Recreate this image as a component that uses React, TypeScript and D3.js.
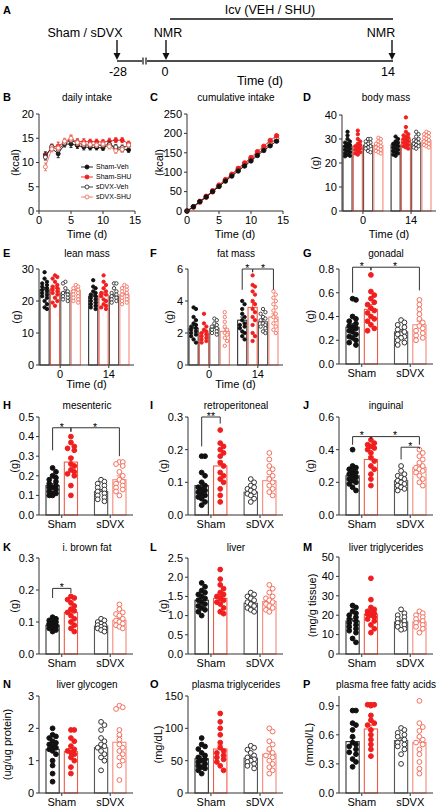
import React from 'react';
import * as d3 from 'd3';

const FONT = '"Liberation Sans", Arial, Helvetica, sans-serif';
const AXIS = '#333';

// ---------- series styles ----------
const SERIES = ['Sham-Veh', 'Sham-SHU', 'sDVX-Veh', 'sDVX-SHU'];
const STYLES = [
  { fill: '#111', stroke: '#111', bar: '#333' },
  { fill: '#f01e1e', stroke: '#f01e1e', bar: '#f25a4a' },
  { fill: '#fff', stroke: '#333', bar: '#555' },
  { fill: '#fff', stroke: '#f3705f', bar: '#f58a7c' },
];

// ---------- B: daily intake ----------
const dailyDays = [1, 2, 3, 4, 5, 6, 7, 8, 9, 10, 11, 12, 13, 14];
const dailyShamVeh = [11.6, 12.9, 11.8, 13.8, 13.8, 13.5, 13.2, 13.1, 13.1, 13.0, 13.7, 12.8, 12.7, 12.6];
const dailyShamSHU = [11.3, 13.2, 13.4, 14.2, 14.8, 14.3, 14.3, 14.3, 14.3, 14.2, 14.4, 14.6, 14.6, 13.9];
const dailySdvxVeh = [11.1, 13.3, 12.6, 14.0, 14.5, 14.1, 13.6, 13.6, 13.6, 13.5, 13.7, 13.2, 13.1, 13.5];
const dailySdvxSHU = [9.1, 12.8, 13.0, 14.4, 15.0, 14.1, 13.9, 13.7, 13.6, 13.8, 13.3, 12.4, 12.7, 13.6];
const dailySem = [0.6, 0.5, 0.8, 0.6, 0.7, 0.6, 0.6, 0.5, 0.5, 0.5, 0.6, 0.5, 0.5, 0.5];
const dailySdvxSHUSem = [0.8, 0.6, 0.6, 0.6, 0.7, 0.6, 0.6, 0.5, 0.5, 0.5, 0.5, 0.5, 0.5, 0.5];

// ---------- C: cumulative intake ----------
const cumDays = [0, 1, 2, 3, 4, 5, 6, 7, 8, 9, 10, 11, 12, 13, 14];
const cumShamVeh = [0, 11, 24, 36, 50, 63, 77, 90, 103, 116, 129, 143, 156, 168, 180];
const cumShamSHU = [0, 11, 25, 38, 52, 67, 81, 95, 110, 124, 138, 153, 167, 182, 194];
const cumSdvxVeh = [0, 11, 24, 37, 51, 65, 79, 93, 106, 120, 134, 147, 160, 174, 187];
const cumSdvxSHU = [0, 9, 22, 35, 49, 64, 78, 92, 106, 119, 133, 146, 159, 172, 186];

// ---------- D: body mass (day 0 x4, day 14 x4) ----------
const bodyMassPoints = [
  [33, 31.5, 30, 29, 28.5, 28, 27.5, 27, 26.5, 26, 25.5, 25, 24.5, 24, 23.5, 23, 22.8],
  [33.5, 32, 30, 29, 28, 27.5, 27, 26.5, 26, 25.5, 25, 24.5, 24, 23.5],
  [30, 30, 29, 28.5, 28, 27.5, 27, 26.5, 26, 25, 24.5],
  [30.5, 30, 29, 28.5, 28, 27.5, 27, 26.5, 26, 25.5, 25, 24.5, 24],
  [31, 30, 29, 28.5, 28, 27.5, 27, 26.5, 26, 25.5, 25, 24.5, 24, 23.5, 23],
  [39, 35, 33, 32, 31.5, 31, 30.5, 30, 29.5, 29, 28.5, 28, 27.5, 27, 26.5, 26],
  [33, 32, 31, 30, 29.5, 29, 28.5, 28, 27.5, 27, 26.5, 26],
  [33, 32.5, 32, 31.5, 31, 30.5, 30, 29.5, 29, 28.5, 28, 27.5, 27, 26.5],
];
const bodyMassMeans = [27, 27, 27.3, 27.3, 27.5, 30, 28.3, 29.3];
const bodyMassSem = [0.7, 0.7, 0.6, 0.5, 0.6, 0.9, 0.6, 0.6];

// ---------- E: lean mass ----------
const leanMassPoints = [
  [29, 27, 26, 25.5, 25, 24.5, 24, 23.5, 23, 22.5, 22, 21.5, 21, 20, 19, 18, 17.5],
  [28, 27.5, 27, 26, 25, 24.5, 24, 23.5, 23, 22.5, 22, 21, 20, 19.5, 18.5],
  [26, 25.5, 24, 23, 22.5, 22, 21.5, 21, 20.5, 20],
  [25, 24.5, 24, 23.5, 23, 22.5, 22, 21.5, 21, 20.5, 20, 19.5],
  [26.5, 24.5, 24, 23, 22.5, 22, 21.5, 21, 20.5, 20, 19.5, 19, 18.5, 18, 17.5],
  [28, 26, 25, 24, 23, 22.5, 22, 21.5, 20.5, 20, 19, 18.5, 18, 17.5],
  [25.5, 25.5, 24, 23, 22.5, 22, 21.5, 21, 20.5, 20, 19.5],
  [25, 24.5, 24, 23.5, 23, 22.5, 22, 21.5, 21, 20.5, 20, 19.5, 19],
];
const leanMassMeans = [23.5, 24, 22.5, 23.3, 21.5, 22, 21.5, 22];
const leanMassSem = [0.7, 0.7, 0.6, 0.5, 0.6, 0.8, 0.6, 0.5];

// ---------- F: fat mass ----------
const fatMassPoints = [
  [3.6, 3.5, 3.0, 2.8, 2.6, 2.5, 2.4, 2.3, 2.2, 2.1, 2.0, 1.9, 1.8, 1.6, 1.4],
  [3.2, 2.6, 2.4, 2.2, 2.1, 2.0, 1.9, 1.8, 1.7, 1.6, 1.5, 1.4],
  [2.9, 2.8, 2.6, 2.5, 2.4, 2.3, 2.2, 2.1, 2.0, 1.9],
  [3.3, 3.0, 2.7, 2.4, 2.2, 2.0, 1.9, 1.7, 1.5, 1.2],
  [4.0, 3.8, 3.5, 3.2, 3.0, 2.8, 2.6, 2.5, 2.4, 2.3, 2.1, 2.0, 1.8, 1.6],
  [5.6, 5.0, 4.9, 4.6, 4.4, 4.0, 3.8, 3.5, 3.3, 3.0, 2.8, 2.5, 2.0, 1.8, 1.5],
  [3.5, 3.3, 3.2, 3.0, 2.9, 2.8, 2.6, 2.5, 2.4, 2.3, 2.1, 2.0],
  [4.6, 4.4, 4.2, 4.0, 3.8, 3.6, 3.4, 3.2, 3.0, 2.8, 2.6, 2.4, 2.2, 2.0],
];
const fatMassMeans = [2.3, 2.0, 2.3, 2.1, 2.8, 3.6, 2.7, 3.0];
const fatMassSem = [0.2, 0.15, 0.12, 0.2, 0.2, 0.3, 0.15, 0.2];

// ---------- G: gonadal ----------
const gonadalPoints = [
  [0.54, 0.55, 0.40, 0.38, 0.36, 0.34, 0.32, 0.31, 0.30, 0.28, 0.27, 0.25, 0.23, 0.22, 0.20, 0.18, 0.16],
  [0.75, 0.61, 0.58, 0.55, 0.52, 0.50, 0.47, 0.45, 0.43, 0.40, 0.38, 0.36, 0.33, 0.30, 0.28],
  [0.37, 0.35, 0.33, 0.31, 0.29, 0.27, 0.25, 0.23, 0.22, 0.20, 0.18, 0.16],
  [0.54, 0.50, 0.46, 0.42, 0.38, 0.35, 0.32, 0.30, 0.28, 0.26, 0.24, 0.22, 0.20],
];
const gonadalMeans = [0.31, 0.46, 0.27, 0.33];
const gonadalSem = [0.03, 0.04, 0.02, 0.03];

// ---------- H: mesenteric ----------
const mesentericPoints = [
  [0.24, 0.22, 0.20, 0.19, 0.18, 0.17, 0.16, 0.15, 0.14, 0.14, 0.13, 0.12, 0.11, 0.11, 0.10, 0.10],
  [0.40, 0.37, 0.35, 0.34, 0.33, 0.29, 0.26, 0.25, 0.23, 0.22, 0.21, 0.20, 0.15, 0.10],
  [0.18, 0.17, 0.16, 0.15, 0.14, 0.13, 0.12, 0.11, 0.10, 0.09, 0.08, 0.07],
  [0.27, 0.27, 0.26, 0.25, 0.22, 0.20, 0.18, 0.17, 0.16, 0.15, 0.14, 0.13, 0.12, 0.10],
];
const mesentericMeans = [0.15, 0.27, 0.12, 0.18];
const mesentericSem = [0.01, 0.025, 0.01, 0.02];

// ---------- I: retroperitoneal ----------
const retroPoints = [
  [0.18, 0.18, 0.13, 0.12, 0.10, 0.09, 0.085, 0.08, 0.075, 0.07, 0.065, 0.06, 0.055, 0.05, 0.04, 0.03],
  [0.26, 0.22, 0.21, 0.20, 0.19, 0.18, 0.16, 0.15, 0.13, 0.12, 0.11, 0.10, 0.08, 0.06, 0.04],
  [0.11, 0.10, 0.09, 0.085, 0.08, 0.075, 0.07, 0.065, 0.06, 0.05, 0.04],
  [0.19, 0.17, 0.15, 0.14, 0.13, 0.12, 0.11, 0.10, 0.09, 0.08, 0.07, 0.06],
];
const retroMeans = [0.09, 0.15, 0.07, 0.105];
const retroSem = [0.01, 0.015, 0.007, 0.012];

// ---------- J: inguinal ----------
const inguinalPoints = [
  [0.40, 0.30, 0.29, 0.28, 0.27, 0.26, 0.25, 0.24, 0.23, 0.22, 0.21, 0.20, 0.19, 0.17, 0.15],
  [0.46, 0.44, 0.43, 0.42, 0.41, 0.40, 0.38, 0.35, 0.33, 0.30, 0.28, 0.25, 0.22, 0.18],
  [0.30, 0.27, 0.25, 0.24, 0.23, 0.22, 0.21, 0.20, 0.19, 0.18, 0.17, 0.16, 0.15],
  [0.40, 0.38, 0.36, 0.34, 0.32, 0.30, 0.29, 0.28, 0.27, 0.26, 0.24, 0.22, 0.20, 0.18],
];
const inguinalMeans = [0.24, 0.34, 0.21, 0.29];
const inguinalSem = [0.015, 0.02, 0.012, 0.018];

// ---------- K: i. brown fat ----------
const brownPoints = [
  [0.115, 0.11, 0.105, 0.10, 0.10, 0.095, 0.095, 0.09, 0.09, 0.09, 0.085, 0.085, 0.08, 0.08, 0.075, 0.07],
  [0.18, 0.175, 0.17, 0.16, 0.15, 0.14, 0.135, 0.13, 0.12, 0.11, 0.10, 0.09, 0.08, 0.07],
  [0.11, 0.105, 0.10, 0.095, 0.09, 0.09, 0.085, 0.08, 0.08, 0.075, 0.07],
  [0.155, 0.14, 0.13, 0.125, 0.12, 0.11, 0.105, 0.10, 0.095, 0.09, 0.085, 0.08],
];
const brownMeans = [0.09, 0.13, 0.087, 0.105];
const brownSem = [0.003, 0.008, 0.004, 0.006];

// ---------- L: liver ----------
const liverPoints = [
  [1.85, 1.75, 1.65, 1.6, 1.55, 1.5, 1.45, 1.4, 1.35, 1.3, 1.25, 1.2, 1.15, 1.1, 1.0],
  [2.2, 1.95, 1.8, 1.7, 1.6, 1.55, 1.5, 1.45, 1.4, 1.35, 1.3, 1.2, 1.1, 1.05],
  [1.6, 1.55, 1.5, 1.45, 1.4, 1.35, 1.3, 1.25, 1.2, 1.15, 1.1],
  [1.8, 1.7, 1.6, 1.5, 1.45, 1.4, 1.35, 1.3, 1.25, 1.2, 1.15, 1.1],
];
const liverMeans = [1.4, 1.45, 1.32, 1.37];
const liverSem = [0.05, 0.07, 0.05, 0.06];

// ---------- M: liver triglycerides ----------
const liverTgPoints = [
  [25, 24, 22, 21, 20, 19, 18, 17, 16, 15, 14, 13, 12, 11, 8, 6],
  [39, 28, 24, 23, 22, 21.5, 21, 20.5, 20, 19, 18, 17, 15, 13, 11],
  [23, 21, 20, 19, 18, 17, 16, 15, 14, 13, 12.5],
  [22, 21, 20, 19, 18, 17, 16, 15, 14, 13, 11],
];
const liverTgMeans = [17, 20.5, 16.5, 16.5];
const liverTgSem = [1.2, 1.6, 0.9, 0.9];

// ---------- N: liver glycogen ----------
const glycogenPoints = [
  [2.0, 1.8, 1.75, 1.7, 1.6, 1.55, 1.5, 1.45, 1.4, 1.35, 1.3, 1.2, 1.0, 0.85, 0.6, 0.35],
  [1.95, 1.95, 1.7, 1.6, 1.45, 1.35, 1.3, 1.25, 1.2, 1.1, 1.0, 0.8, 0.6],
  [2.2, 2.1, 1.95, 1.7, 1.6, 1.5, 1.45, 1.4, 1.3, 1.2, 1.1, 1.0, 0.7],
  [2.7, 2.65, 2.6, 1.95, 1.8, 1.65, 1.5, 1.4, 1.3, 1.2, 1.1, 1.0, 0.85, 0.4],
];
const glycogenMeans = [1.35, 1.28, 1.4, 1.57];
const glycogenSem = [0.1, 0.1, 0.1, 0.18];

// ---------- O: plasma triglycerides ----------
const plasmaTgPoints = [
  [85, 75, 72, 68, 62, 58, 55, 52, 50, 48, 45, 42, 40, 38, 35, 30],
  [123, 110, 100, 90, 78, 70, 65, 62, 58, 55, 52, 48, 42, 35],
  [73, 70, 67, 62, 58, 55, 52, 50, 48, 45, 42, 38],
  [100, 95, 80, 75, 68, 62, 58, 55, 50, 45, 40, 35, 30],
];
const plasmaTgMeans = [53, 68, 54, 60];
const plasmaTgSem = [3, 6, 3, 5];

// ---------- P: plasma free fatty acids ----------
const ffaPoints = [
  [0.85, 0.85, 0.72, 0.70, 0.65, 0.58, 0.52, 0.50, 0.48, 0.45, 0.42, 0.40, 0.35, 0.32, 0.27],
  [0.91, 0.91, 0.91, 0.90, 0.80, 0.75, 0.72, 0.70, 0.65, 0.60, 0.55, 0.50, 0.45, 0.38],
  [0.67, 0.65, 0.62, 0.60, 0.58, 0.55, 0.52, 0.50, 0.48, 0.45, 0.40, 0.30],
  [0.95, 0.72, 0.68, 0.64, 0.58, 0.55, 0.52, 0.50, 0.45, 0.40, 0.32, 0.25, 0.20],
];
const ffaMeans = [0.53, 0.66, 0.54, 0.52];
const ffaSem = [0.04, 0.04, 0.03, 0.05];

const dayLabels = ['0', '14'];
const surgeryLabels = ['Sham', 'sDVX'];

// ---------- helpers ----------
function beeswarm(values: number[], y: (v: number) => number, cx: number, half: number, r: number) {
  const order = values.map((_, i) => i).sort((a, b) => values[b] - values[a]);
  const placed: { x: number; y: number }[] = [];
  const out: { x: number; y: number }[] = new Array(values.length);
  const step = r * 1.4;
  const maxK = Math.max(0, Math.floor(half / step));
  const cands: number[] = [0];
  for (let k = 1; k <= maxK; k++) cands.push(k * step, -k * step);
  for (const i of order) {
    const py = y(values[i]);
    let best = cx;
    let bestD = -1;
    for (const off of cands) {
      const px = cx + off;
      let minD = Infinity;
      for (const p of placed) {
        const d = Math.hypot(p.x - px, p.y - py);
        if (d < minD) minD = d;
      }
      if (minD >= 2 * r * 0.95) {
        best = px;
        break;
      }
      if (minD > bestD) {
        bestD = minD;
        best = px;
      }
    }
    placed.push({ x: best, y: py });
    out[i] = { x: best, y: py };
  }
  return out;
}

type Bracket = { a: number; b: number; y: number; ya: number; yb: number; t: string };

type BarPanelProps = {
  label: string;
  labelX: number;
  labelY: number;
  title: string;
  titleX: number;
  x0: number;
  x1: number;
  yTop: number;
  yBottom: number;
  yMax: number;
  ticks: number[];
  fmt: string;
  ylabel: string;
  ylabelX: number;
  xLabels: string[];
  xTitle?: string;
  xTitleDy?: number;
  points: number[][];
  means: number[];
  sems: number[];
  brackets?: Bracket[];
  r: number;
};

function BarPanel(p: BarPanelProps) {
  const y = d3.scaleLinear().domain([0, p.yMax]).range([p.yBottom, p.yTop]);
  const nb = p.points.length;
  const per = nb / 2;
  const eight = nb === 8;
  const b0 = eight ? p.x0 + 1 : p.x0 + 7;
  const b1 = eight ? p.x1 - 5 : p.x1 - 7;
  const outer = d3.scaleBand<string>().domain(p.xLabels).range([b0, b1]).paddingInner(eight ? 0.17 : 0.35);
  const inner = d3
    .scaleBand<number>()
    .domain(d3.range(per))
    .range([0, outer.bandwidth()])
    .paddingInner(eight ? 0.12 : 0.28);
  const bw = inner.bandwidth();
  const barX = (i: number) => (outer(p.xLabels[Math.floor(i / per)]) as number) + (inner(i % per) as number);
  const barC = (i: number) => barX(i) + bw / 2;
  const fmt = d3.format(p.fmt);
  const sw = eight ? 0.9 : 1;
  return (
    <g>
      <text x={p.labelX} y={p.labelY} fontSize={11} fontWeight="bold" fontFamily={FONT}>
        {p.label}
      </text>
      <text x={p.titleX} y={p.labelY} fontSize={10} textAnchor="middle" fontFamily={FONT}>
        {p.title}
      </text>
      {/* bars */}
      {p.means.map((m, i) => {
        const st = STYLES[i % 4];
        const top = y(m);
        const et = y(m + p.sems[i]);
        const cx = barC(i);
        return (
          <g key={'b' + i}>
            <rect x={barX(i)} y={top} width={bw} height={p.yBottom - top} fill="none" stroke={st.bar} strokeWidth={1.1} />
            <line x1={cx} x2={cx} y1={top} y2={et} stroke={st.bar} strokeWidth={1} />
            <line x1={cx - bw * 0.22} x2={cx + bw * 0.22} y1={et} y2={et} stroke={st.bar} strokeWidth={1} />
          </g>
        );
      })}
      {/* dots */}
      {p.points.map((vals, i) => {
        const st = STYLES[i % 4];
        const pos = beeswarm(vals, y, barC(i), bw / 2 - p.r * 0.3, p.r);
        return (
          <g key={'d' + i}>
            {pos.map((q, j) => (
              <circle key={j} cx={q.x} cy={q.y} r={p.r} fill={st.fill} stroke={st.stroke} strokeWidth={sw} />
            ))}
          </g>
        );
      })}
      {/* brackets */}
      {(p.brackets || []).map((b, i) => {
        const xa = barC(b.a);
        const xb = barC(b.b);
        const yy = y(b.y);
        return (
          <g key={'k' + i}>
            <path
              d={`M${xa},${y(b.ya)}V${yy}H${xb}V${y(b.yb)}`}
              fill="none"
              stroke={AXIS}
              strokeWidth={1}
            />
            <text x={(xa + xb) / 2} y={yy + 2.8} fontSize={10.5} textAnchor="middle" fontFamily={FONT}>
              {b.t}
            </text>
          </g>
        );
      })}
      {/* y axis */}
      <line x1={p.x0} x2={p.x0} y1={p.yBottom} y2={p.yTop} stroke={AXIS} strokeWidth={1} />
      {p.ticks.map((t) => (
        <g key={'t' + t}>
          <line x1={p.x0 - 3} x2={p.x0} y1={y(t)} y2={y(t)} stroke={AXIS} strokeWidth={1} />
          <text x={p.x0 - 5} y={y(t)} dy="0.35em" fontSize={11} textAnchor="end" fontFamily={FONT}>
            {fmt(t)}
          </text>
        </g>
      ))}
      <text
        transform={`translate(${p.ylabelX},${(p.yTop + p.yBottom) / 2}) rotate(-90)`}
        fontSize={11}
        textAnchor="middle"
        fontFamily={FONT}
      >
        {p.ylabel}
      </text>
      {/* x axis */}
      <line x1={p.x0} x2={p.x1} y1={p.yBottom} y2={p.yBottom} stroke={AXIS} strokeWidth={1} />
      {p.xLabels.map((l) => {
        const cx = (outer(l) as number) + outer.bandwidth() / 2;
        return (
          <g key={'x' + l}>
            <line x1={cx} x2={cx} y1={p.yBottom} y2={p.yBottom + 3} stroke={AXIS} strokeWidth={1} />
            <text x={cx} y={p.yBottom + 13} fontSize={11} textAnchor="middle" fontFamily={FONT}>
              {l}
            </text>
          </g>
        );
      })}
      {p.xTitle && (
        <text x={(p.x0 + p.x1) / 2} y={p.yBottom + (p.xTitleDy || 24)} fontSize={11} textAnchor="middle" fontFamily={FONT}>
          {p.xTitle}
        </text>
      )}
    </g>
  );
}

type LineSeries = { name: string; xs: number[]; ys: number[]; sem?: number[]; style: number };

function LinePanel(p: {
  label: string;
  labelX: number;
  labelY: number;
  title: string;
  titleX: number;
  x0: number;
  x1: number;
  yTop: number;
  yBottom: number;
  yMax: number;
  ticks: number[];
  xTicks: number[];
  ylabel: string;
  ylabelX: number;
  series: LineSeries[];
  r: number;
  legend?: boolean;
}) {
  const x = d3.scaleLinear().domain([0, 15]).range([p.x0, p.x1]);
  const y = d3.scaleLinear().domain([0, p.yMax]).range([p.yBottom, p.yTop]);
  const line = d3
    .line<[number, number]>()
    .x((d) => x(d[0]))
    .y((d) => y(d[1]));
  return (
    <g>
      <text x={p.labelX} y={p.labelY} fontSize={11} fontWeight="bold" fontFamily={FONT}>
        {p.label}
      </text>
      <text x={p.titleX} y={p.labelY} fontSize={10} textAnchor="middle" fontFamily={FONT}>
        {p.title}
      </text>
      {p.series.map((s, si) => {
        const st = STYLES[s.style];
        const pts: [number, number][] = s.xs.map((d, i) => [d, s.ys[i]]);
        return (
          <g key={si}>
            <path d={line(pts) || ''} fill="none" stroke={st.stroke} strokeWidth={0.9} />
            {s.sem &&
              pts.map((d, i) => (
                <line
                  key={'e' + i}
                  x1={x(d[0])}
                  x2={x(d[0])}
                  y1={y(d[1] - s.sem![i])}
                  y2={y(d[1] + s.sem![i])}
                  stroke={st.stroke}
                  strokeWidth={0.9}
                />
              ))}
            {s.sem &&
              pts.map((d, i) => (
                <g key={'c' + i}>
                  <line x1={x(d[0]) - 1.5} x2={x(d[0]) + 1.5} y1={y(d[1] + s.sem![i])} y2={y(d[1] + s.sem![i])} stroke={st.stroke} strokeWidth={0.9} />
                  <line x1={x(d[0]) - 1.5} x2={x(d[0]) + 1.5} y1={y(d[1] - s.sem![i])} y2={y(d[1] - s.sem![i])} stroke={st.stroke} strokeWidth={0.9} />
                </g>
              ))}
            {pts.map((d, i) => (
              <circle key={i} cx={x(d[0])} cy={y(d[1])} r={p.r} fill={st.fill} stroke={st.stroke} strokeWidth={0.9} />
            ))}
          </g>
        );
      })}
      <line x1={p.x0} x2={p.x0} y1={p.yBottom} y2={p.yTop} stroke={AXIS} />
      {p.ticks.map((t) => (
        <g key={'t' + t}>
          <line x1={p.x0 - 3} x2={p.x0} y1={y(t)} y2={y(t)} stroke={AXIS} />
          <text x={p.x0 - 5} y={y(t)} dy="0.35em" fontSize={11} textAnchor="end" fontFamily={FONT}>
            {t}
          </text>
        </g>
      ))}
      <text
        transform={`translate(${p.ylabelX},${(p.yTop + p.yBottom) / 2}) rotate(-90)`}
        fontSize={11}
        textAnchor="middle"
        fontFamily={FONT}
      >
        {p.ylabel}
      </text>
      <line x1={p.x0} x2={p.x1} y1={p.yBottom} y2={p.yBottom} stroke={AXIS} />
      {p.xTicks.map((t) => (
        <g key={'x' + t}>
          <line x1={x(t)} x2={x(t)} y1={p.yBottom} y2={p.yBottom + 3} stroke={AXIS} />
          <text x={x(t)} y={p.yBottom + 13} fontSize={11} textAnchor="middle" fontFamily={FONT}>
            {t}
          </text>
        </g>
      ))}
      <text x={(p.x0 + p.x1) / 2} y={p.yBottom + 27} fontSize={11} textAnchor="middle" fontFamily={FONT}>
        Time (d)
      </text>
      {p.legend &&
        p.series.map((s, i) => {
          const st = STYLES[s.style];
          const ly = 167 + i * 10;
          return (
            <g key={'l' + i}>
              <line x1={81} x2={93} y1={ly} y2={ly} stroke={st.stroke} strokeWidth={0.9} />
              <circle cx={87} cy={ly} r={2} fill={st.fill} stroke={st.stroke} strokeWidth={0.9} />
              <text x={96} y={ly} dy="0.35em" fontSize={7} fontFamily={FONT}>
                {s.name}
              </text>
            </g>
          );
        })}
    </g>
  );
}

function Arrow({ x, y1, y2 }: { x: number; y1: number; y2: number }) {
  return (
    <g>
      <line x1={x} x2={x} y1={y1} y2={y2 - 5} stroke="#111" strokeWidth={1.4} />
      <path d={`M${x - 3.5},${y2 - 7}L${x},${y2}L${x + 3.5},${y2 - 7}Z`} fill="#111" />
    </g>
  );
}

function PanelA() {
  return (
    <g fontFamily={FONT}>
      <text x={3} y={14} fontSize={11} fontWeight="bold">A</text>
      <text x={270} y={14} fontSize={12.5} textAnchor="middle">Icv (VEH / SHU)</text>
      <line x1={170} x2={393} y1={19} y2={19} stroke="#111" strokeWidth={1.4} />
      <text x={85} y={37} fontSize={12.5} textAnchor="middle">Sham / sDVX</text>
      <text x={168} y={37} fontSize={12.5} textAnchor="middle">NMR</text>
      <text x={381} y={37} fontSize={12.5} textAnchor="middle">NMR</text>
      <Arrow x={117} y1={40} y2={60} />
      <Arrow x={166} y1={40} y2={60} />
      <Arrow x={392} y1={40} y2={60} />
      <line x1={117} x2={142} y1={61} y2={61} stroke="#111" strokeWidth={1.4} />
      <line x1={143} x2={143} y1={57.5} y2={64.5} stroke="#111" strokeWidth={1.2} />
      <line x1={146} x2={146} y1={57.5} y2={64.5} stroke="#111" strokeWidth={1.2} />
      <line x1={147} x2={393} y1={61} y2={61} stroke="#111" strokeWidth={1.4} />
      <text x={118} y={76} fontSize={12.5} textAnchor="middle">-28</text>
      <text x={165} y={76} fontSize={12.5} textAnchor="middle">0</text>
      <text x={388} y={76} fontSize={12.5} textAnchor="middle">14</text>
      <text x={260} y={85} fontSize={12.5} textAnchor="middle">Time (d)</text>
    </g>
  );
}

const COLX = [3, 150, 303];
const TITLEX = [87, 236, 386];
const ROWY = [101, 257, 409, 551, 688];
const C3 = 339;

export default function App() {
  const dailySeries: LineSeries[] = [
    { name: SERIES[0], xs: dailyDays, ys: dailyShamVeh, sem: dailySem, style: 0 },
    { name: SERIES[1], xs: dailyDays, ys: dailyShamSHU, sem: dailySem, style: 1 },
    { name: SERIES[2], xs: dailyDays, ys: dailySdvxVeh, sem: dailySem, style: 2 },
    { name: SERIES[3], xs: dailyDays, ys: dailySdvxSHU, sem: dailySdvxSHUSem, style: 3 },
  ];
  const cumSeries: LineSeries[] = [
    { name: SERIES[2], xs: cumDays, ys: cumSdvxVeh, style: 2 },
    { name: SERIES[3], xs: cumDays, ys: cumSdvxSHU, style: 3 },
    { name: SERIES[1], xs: cumDays, ys: cumShamSHU, style: 1 },
    { name: SERIES[0], xs: cumDays, ys: cumShamVeh, style: 0 },
  ];
  const t01 = (n: number, s: number) => d3.range(0, n + 1).map((i) => +(i * s).toFixed(2));
  return (
    <svg width={439} height={808} style={{ position: 'absolute', left: 0, top: 0, background: '#fff' }}>
      <rect width={439} height={808} fill="#fff" />
      <PanelA />
      <LinePanel label="B" labelX={COLX[0]} labelY={ROWY[0]} title="daily intake" titleX={TITLEX[0]}
        x0={39} x1={135} yTop={114} yBottom={211} yMax={20} ticks={[0, 5, 10, 15, 20]} xTicks={[0, 5, 10, 15]}
        ylabel="(kcal)" ylabelX={19} series={dailySeries} r={2} legend />
      <LinePanel label="C" labelX={COLX[1]} labelY={ROWY[0]} title="cumulative intake" titleX={TITLEX[1]}
        x0={187} x1={283} yTop={114} yBottom={211} yMax={250} ticks={[0, 50, 100, 150, 200, 250]} xTicks={[0, 5, 10, 15]}
        ylabel="(kcal)" ylabelX={163} series={cumSeries} r={2.2} />
      <BarPanel label="D" labelX={COLX[2]} labelY={ROWY[0]} title="body mass" titleX={TITLEX[2]}
        x0={342} x1={436} yTop={115} yBottom={211} yMax={40} ticks={[0, 10, 20, 30, 40]} fmt="d"
        ylabel="(g)" ylabelX={319} xLabels={dayLabels} xTitle="Time (d)" xTitleDy={27}
        points={bodyMassPoints} means={bodyMassMeans} sems={bodyMassSem} r={1.7} />
      <BarPanel label="E" labelX={COLX[0]} labelY={ROWY[1]} title="lean mass" titleX={TITLEX[0]}
        x0={39} x1={134} yTop={269} yBottom={365} yMax={30} ticks={[0, 10, 20, 30]} fmt="d"
        ylabel="(g)" ylabelX={20} xLabels={dayLabels} xTitle="Time (d)" xTitleDy={23}
        points={leanMassPoints} means={leanMassMeans} sems={leanMassSem} r={1.7} />
      <BarPanel label="F" labelX={COLX[1]} labelY={ROWY[1]} title="fat mass" titleX={TITLEX[1]}
        x0={188} x1={283} yTop={269} yBottom={365} yMax={6} ticks={[0, 2, 4, 6]} fmt="d"
        ylabel="(g)" ylabelX={173} xLabels={dayLabels} xTitle="Time (d)" xTitleDy={23}
        points={fatMassPoints} means={fatMassMeans} sems={fatMassSem} r={1.7}
        brackets={[
          { a: 4, b: 5, y: 6.0, ya: 4.7, yb: 5.8, t: '*' },
          { a: 5, b: 7, y: 6.0, ya: 5.8, yb: 4.7, t: '*' },
        ]} />
      <BarPanel label="G" labelX={COLX[2]} labelY={ROWY[1]} title="gonadal" titleX={TITLEX[2]}
        x0={C3} x1={433} yTop={269} yBottom={364} yMax={0.8} ticks={t01(4, 0.2)} fmt=".1f"
        ylabel="(g)" ylabelX={314} xLabels={surgeryLabels}
        points={gonadalPoints} means={gonadalMeans} sems={gonadalSem} r={2.4}
        brackets={[
          { a: 0, b: 1, y: 0.815, ya: 0.6, yb: 0.79, t: '*' },
          { a: 1, b: 3, y: 0.815, ya: 0.79, yb: 0.62, t: '*' },
        ]} />
      <BarPanel label="H" labelX={COLX[0]} labelY={ROWY[2]} title="mesenteric" titleX={TITLEX[0]}
        x0={39} x1={133} yTop={417} yBottom={515} yMax={0.5} ticks={t01(5, 0.1)} fmt=".1f"
        ylabel="(g)" ylabelX={18} xLabels={surgeryLabels}
        points={mesentericPoints} means={mesentericMeans} sems={mesentericSem} r={2.4}
        brackets={[
          { a: 0, b: 1, y: 0.445, ya: 0.33, yb: 0.425, t: '*' },
          { a: 1, b: 3, y: 0.445, ya: 0.425, yb: 0.3, t: '*' },
        ]} />
      <BarPanel label="I" labelX={COLX[1]} labelY={ROWY[2]} title="retroperitoneal" titleX={TITLEX[1]}
        x0={188} x1={283} yTop={417} yBottom={515} yMax={0.3} ticks={t01(3, 0.1)} fmt=".1f"
        ylabel="(g)" ylabelX={167} xLabels={surgeryLabels}
        points={retroPoints} means={retroMeans} sems={retroSem} r={2.4}
        brackets={[{ a: 0, b: 1, y: 0.3, ya: 0.21, yb: 0.28, t: '**' }]} />
      <BarPanel label="J" labelX={COLX[2]} labelY={ROWY[2]} title="inguinal" titleX={TITLEX[2]}
        x0={C3} x1={433} yTop={417} yBottom={515} yMax={0.6} ticks={t01(3, 0.2)} fmt=".1f"
        ylabel="(g)" ylabelX={314} xLabels={surgeryLabels}
        points={inguinalPoints} means={inguinalMeans} sems={inguinalSem} r={2.4}
        brackets={[
          { a: 0, b: 1, y: 0.48, ya: 0.43, yb: 0.465, t: '*' },
          { a: 1, b: 3, y: 0.48, ya: 0.465, yb: 0.43, t: '*' },
          { a: 2, b: 3, y: 0.415, ya: 0.34, yb: 0.405, t: '*' },
        ]} />
      <BarPanel label="K" labelX={COLX[0]} labelY={ROWY[3]} title="i. brown fat" titleX={TITLEX[0]}
        x0={39} x1={133} yTop={558} yBottom={654} yMax={0.3} ticks={t01(3, 0.1)} fmt=".1f"
        ylabel="(g)" ylabelX={18} xLabels={surgeryLabels}
        points={brownPoints} means={brownMeans} sems={brownSem} r={2.4}
        brackets={[{ a: 0, b: 1, y: 0.205, ya: 0.175, yb: 0.19, t: '*' }]} />
      <BarPanel label="L" labelX={COLX[1]} labelY={ROWY[3]} title="liver" titleX={TITLEX[1]}
        x0={188} x1={283} yTop={558} yBottom={654} yMax={2.5} ticks={t01(5, 0.5)} fmt=".1f"
        ylabel="(g)" ylabelX={167} xLabels={surgeryLabels}
        points={liverPoints} means={liverMeans} sems={liverSem} r={2.4} />
      <BarPanel label="M" labelX={COLX[2]} labelY={ROWY[3]} title="liver triglycerides" titleX={TITLEX[2]}
        x0={C3} x1={433} yTop={557} yBottom={654} yMax={50} ticks={[0, 10, 20, 30, 40, 50]} fmt="d"
        ylabel="(mg/g tissue)" ylabelX={316} xLabels={surgeryLabels}
        points={liverTgPoints} means={liverTgMeans} sems={liverTgSem} r={2.4} />
      <BarPanel label="N" labelX={COLX[0]} labelY={ROWY[4]} title="liver glycogen" titleX={TITLEX[0]}
        x0={39} x1={133} yTop={696} yBottom={793} yMax={3} ticks={[0, 1, 2, 3]} fmt="d"
        ylabel="(ug/ug protein)" ylabelX={11} xLabels={surgeryLabels}
        points={glycogenPoints} means={glycogenMeans} sems={glycogenSem} r={2.4} />
      <BarPanel label="O" labelX={COLX[1]} labelY={ROWY[4]} title="plasma triglycerides" titleX={TITLEX[1]}
        x0={188} x1={283} yTop={696} yBottom={793} yMax={150} ticks={[0, 50, 100, 150]} fmt="d"
        ylabel="(mg/dL)" ylabelX={162} xLabels={surgeryLabels}
        points={plasmaTgPoints} means={plasmaTgMeans} sems={plasmaTgSem} r={2.4} />
      <BarPanel label="P" labelX={COLX[2]} labelY={ROWY[4]} title="plasma free fatty acids" titleX={TITLEX[2]}
        x0={C3} x1={433} yTop={696} yBottom={793} yMax={1.0} ticks={[0, 0.3, 0.6, 0.9]} fmt=".1f"
        ylabel="(mmol/L)" ylabelX={313} xLabels={surgeryLabels}
        points={ffaPoints} means={ffaMeans} sems={ffaSem} r={2.4} />
    </svg>
  );
}
